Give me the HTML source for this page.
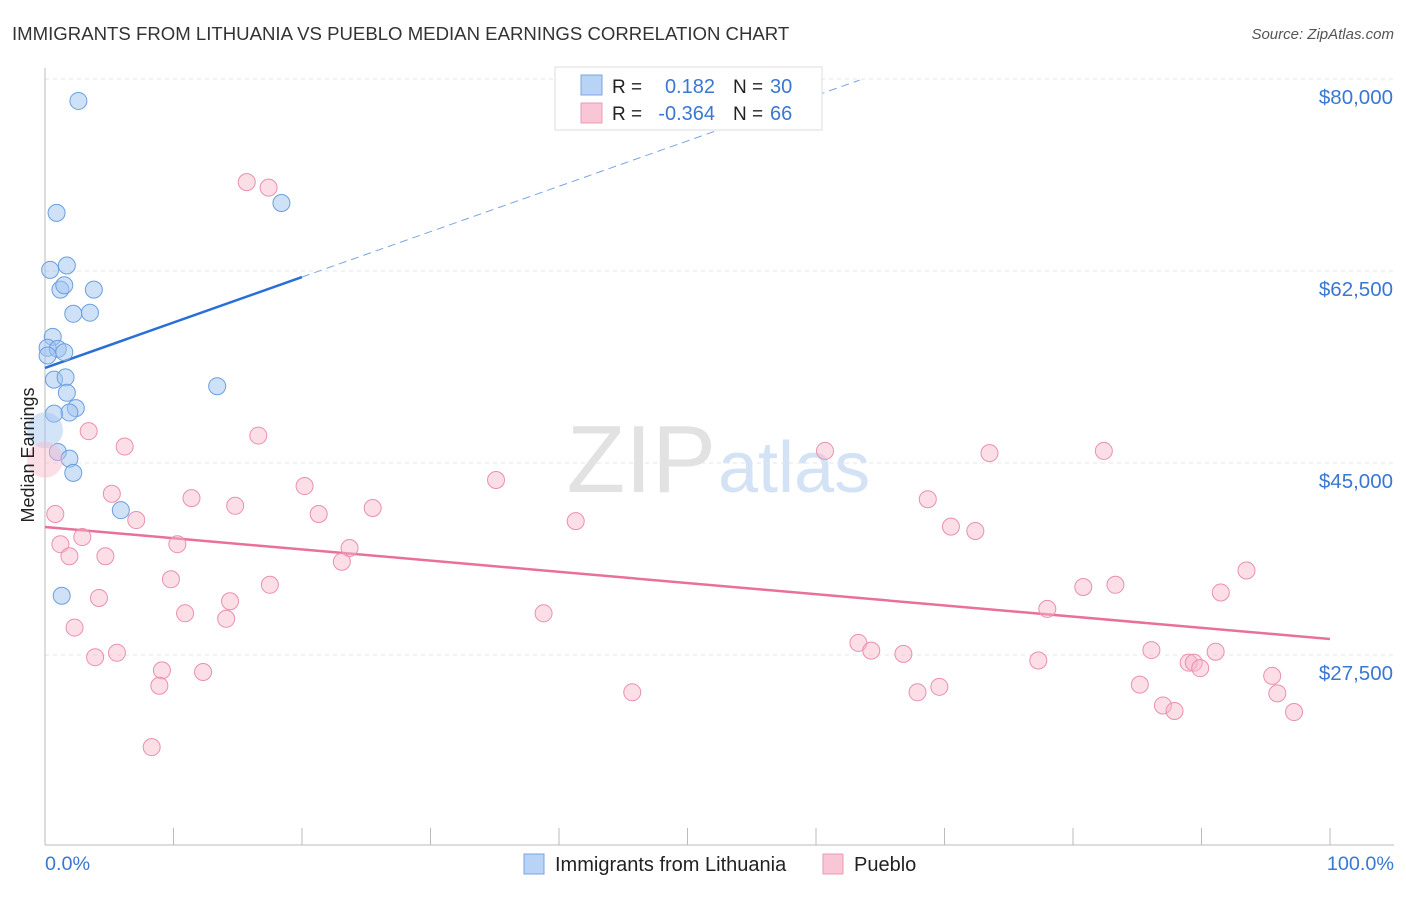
<!DOCTYPE html>
<html><head><meta charset="utf-8"><style>
body{margin:0;background:#fff;font-family:"Liberation Sans",sans-serif;}
svg text{font-family:"Liberation Sans",sans-serif;}
</style></head><body>
<svg id="c" width="1406" height="892" xmlns="http://www.w3.org/2000/svg">
<text x="12" y="40" font-size="18.6" fill="#333">IMMIGRANTS FROM LITHUANIA VS PUEBLO MEDIAN EARNINGS CORRELATION CHART</text>
<text x="1394" y="39" font-size="15" fill="#555" text-anchor="end" font-style="italic">Source: ZipAtlas.com</text>
<text x="716" y="492" font-size="96" fill="#e2e2e2" text-anchor="end" font-family="Liberation Serif">ZIP</text>
<text x="718" y="492" font-size="72" fill="#d3e2f5">atlas</text>
<g id="grid"></g><g id="axes"></g><g id="trend"></g><g id="pts"></g>
<text x="34" y="455" font-size="18" fill="#222" text-anchor="middle" transform="rotate(-90 34 455)">Median Earnings</text>
<text x="45" y="870" font-size="19.8" fill="#3a78d0">0.0%</text>
<text x="1394" y="870" font-size="19.8" fill="#3a78d0" text-anchor="end">100.0%</text>
<g>
<rect x="555" y="67" width="267" height="63" fill="#fff" stroke="#ddd"/>
<rect x="581" y="75" width="21" height="20" fill="#b8d3f5" stroke="#7aa6e0"/>
<rect x="581" y="103" width="21" height="20" fill="#f9c6d5" stroke="#ec9bb5"/>
<text x="612" y="93" font-size="19" fill="#222">R =</text><text x="715" y="93" font-size="20" fill="#3a78d0" text-anchor="end">0.182</text>
<text x="733" y="93" font-size="19" fill="#222">N =</text><text x="770" y="93" font-size="20" fill="#3a78d0">30</text>
<text x="612" y="120" font-size="19" fill="#222">R =</text><text x="715" y="120" font-size="20" fill="#3a78d0" text-anchor="end">-0.364</text>
<text x="733" y="120" font-size="19" fill="#222">N =</text><text x="770" y="120" font-size="20" fill="#3a78d0">66</text>
</g>
<g>
<rect x="524" y="854" width="20" height="20" fill="#b8d3f5" stroke="#7aa6e0"/>
<text x="555" y="871" font-size="20" fill="#222">Immigrants from Lithuania</text>
<rect x="823" y="854" width="20" height="20" fill="#f9c6d5" stroke="#ec9bb5"/>
<text x="854" y="871" font-size="20" fill="#222">Pueblo</text>
</g>
</svg>
<script>
const yTicks=[80000,62500,45000,27500];
const yTickLabels=["$80,000","$62,500","$45,000","$27,500"];
const xTicks=[0,10,20,30,40,50,60,70,80,90,100];
const blueX=[2.6,0.9,18.4,0.4,1.7,1.2,1.5,3.8,2.2,3.5,0.6,0.2,1.0,1.5,0.2,0.7,1.6,1.7,2.4,1.9,0.7,13.4,1.0,1.9,2.2,5.9,1.3];
const blueY=[78000,67800,68700,62600,63000,60800,61200,60800,58600,58700,56500,55500,55400,55100,54800,52600,52800,51400,50000,49600,49500,52000,46000,45400,44100,40700,32900];
const pinkX=[15.7,17.4,0.8,3.4,6.2,16.6,5.2,7.1,11.4,14.8,20.2,21.3,25.5,35.1,41.3,1.2,2.9,1.9,4.7,10.3,23.7,23.1,9.8,17.5,4.2,14.4,10.9,14.1,38.8,2.3,3.9,5.6,9.1,12.3,8.9,8.3,45.7,60.7,73.5,82.4,68.7,70.5,72.4,93.5,80.8,83.3,91.5,78.0,63.3,64.3,66.8,77.3,86.1,89.0,89.4,89.9,91.1,95.5,85.2,69.6,67.9,95.9,87.0,87.9,97.2];
const pinkY=[70600,70100,40350,47900,46500,47500,42200,39800,41800,41100,42900,40350,40900,43450,39700,37600,38250,36500,36500,37600,37250,36000,34400,33900,32700,32400,31300,30800,31300,30000,27300,27700,26100,25950,24700,19100,24100,46100,45900,46100,41700,39200,38800,35200,33700,33900,33200,31700,28600,27900,27600,27000,27950,26800,26800,26300,27800,25600,24800,24600,24100,24000,22900,22400,22300];
const blueTrend=[53660,61950,79900]; const blueTrendX=[0,20,63.4];
const pinkTrend=[39165,28956]; const pinkTrendX=[0,100];
const X=v=>45+v*12.85, Y=v=>79+(80000-v)*192/17500;
const NS="http://www.w3.org/2000/svg";
function mk(p,t,a){const e=document.createElementNS(NS,t);for(const k in a)e.setAttribute(k,a[k]);document.getElementById(p).appendChild(e);return e;}
yTicks.forEach((v,i)=>{
 const g=mk('grid','line',{x1:45,x2:1394,y1:Y(v),y2:Y(v),stroke:'#e4e4e4','stroke-dasharray':'4,4'});
 
 
 const t=mk('grid','text',{x:1393,y:Y(v)+25,'font-size':20.5,fill:'#3a78d0','text-anchor':'end'});
 t.textContent=yTickLabels[i];
 
 
});
const ax=mk('axes','line',{x1:45,x2:1394,y1:845,y2:845,stroke:'#bbb'});


const ay=mk('axes','line',{x1:45,x2:45,y1:68,y2:845,stroke:'#bbb'});


xTicks.forEach(v=>{const t=mk('axes','line',{x1:X(v),x2:X(v),y1:828,y2:845,stroke:'#bbb'});
 
 });
let l=mk('trend','line',{x1:X(blueTrendX[0]),y1:Y(blueTrend[0]),x2:X(blueTrendX[1]),y2:Y(blueTrend[1]),stroke:'#2a6fd6','stroke-width':2.5});


l=mk('trend','line',{x1:X(blueTrendX[1]),y1:Y(blueTrend[1]),x2:X(blueTrendX[2]),y2:Y(blueTrend[2]),stroke:'#7aa6e0','stroke-width':1,'stroke-dasharray':'8,5'});


l=mk('trend','line',{x1:X(pinkTrendX[0]),y1:Y(pinkTrend[0]),x2:X(pinkTrendX[1]),y2:Y(pinkTrend[1]),stroke:'#e8709a','stroke-width':2.5});


pinkX.forEach((v,i)=>{const c=mk('pts','circle',{cx:X(v),cy:Y(pinkY[i]),r:8.5,fill:'rgba(248,182,202,0.45)',stroke:'#ea8fb0','stroke-width':1});
 
 });
blueX.forEach((v,i)=>{const c=mk('pts','circle',{cx:X(v),cy:Y(blueY[i]),r:8.5,fill:'rgba(160,196,240,0.5)',stroke:'#6a9fe0','stroke-width':1});
 
 });
let b=mk('pts','circle',{cx:X(0),cy:Y(48000),r:18,fill:'rgba(160,196,240,0.45)',stroke:'none'});


b=mk('pts','circle',{cx:X(0),cy:Y(45300),r:18,fill:'rgba(248,182,202,0.45)',stroke:'none'});


</script>
</body></html>
